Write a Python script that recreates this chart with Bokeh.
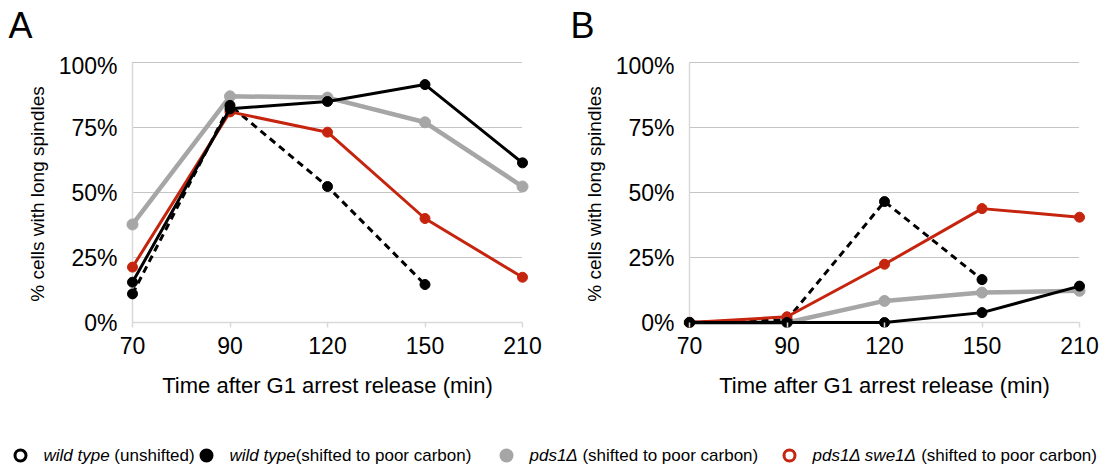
from bokeh.plotting import figure
from bokeh.models import Range1d, FixedTicker, NumeralTickFormatter
from bokeh.layouts import column, row
from bokeh.embed import file_html
from bokeh.resources import INLINE
from bokeh.core.properties import value

# ---------------- data ----------------
times = [70, 90, 120, 150, 210]
y_ticks = [0.0, 0.25, 0.5, 0.75, 1.0]

# Panel A
A_wt_unshifted = [0.11, 0.835, 0.523, 0.146]
A_wt_shifted = [0.155, 0.822, 0.85, 0.915, 0.614]
A_pds1 = [0.377, 0.87, 0.865, 0.77, 0.523]
A_pds1_swe1 = [0.213, 0.81, 0.732, 0.40, 0.174]

# Panel B
B_wt_unshifted = [0.0, 0.01, 0.465, 0.165]
B_wt_shifted = [0.0, 0.0, 0.0, 0.038, 0.14]
B_pds1 = [0.0, 0.0, 0.083, 0.115, 0.122]
B_pds1_swe1 = [0.0, 0.022, 0.224, 0.438, 0.405]

panel_letters = ["A", "B"]

legend_italic = ["wild type", "wild type", "pds1\u0394", "pds1\u0394 swe1\u0394"]
legend_regular = ["(unshifted)", "(shifted to poor carbon)", "(shifted to poor carbon)", "(shifted to poor carbon)"]
legend_gap = [True, False, True, True]

BLACK = "#000000"
GRAY = "#a6a6a6"
RED = "#c5250e"
AXIS = "#d9d9d9"
GRID = "#8a8a8a"
FONT = "Liberation Sans"

# ---------------- geometry ----------------
TOTAL_W, TOTAL_H = 1104, 466
HEAD_H = 52
FIG_W, FIG_H = 552, 358
TOP = 60 - HEAD_H
X_PX = 97.5      # px per category step
Y_PX = 260.0     # px per 100 %
PAD_X = 7.0
PAD_B = 5.0
PAD_T = 2.0
frame_w = int(round(4 * X_PX + 2 * PAD_X))
frame_h = int(round(Y_PX + PAD_B + PAD_T))


def blank(width, height, x0, y0):
    f = figure(width=width, height=height, x_range=Range1d(x0, x0 + width),
               y_range=Range1d(y0 + height, y0), output_backend="svg",
               toolbar_location=None, min_border=0)
    f.axis.visible = False
    f.xgrid.visible = False
    f.ygrid.visible = False
    f.outline_line_color = None
    return f


# header with panel letters
head = blank(TOTAL_W, HEAD_H, 0, 0)
head.text([8, 570], [25, 25], text=panel_letters, text_font=value(FONT), text_font_size="36px",
          text_baseline="middle", text_align="left", text_color="black")


def panel(left_border, series):
    n = len(times)
    xr = Range1d(-PAD_X / X_PX, (n - 1) + PAD_X / X_PX)
    yr = Range1d(-PAD_B / Y_PX, 1.0 + PAD_T / Y_PX)
    p = figure(width=FIG_W, height=FIG_H, x_range=xr, y_range=yr,
               output_backend="svg", toolbar_location=None,
               min_border_left=left_border, min_border_right=FIG_W - left_border - frame_w,
               min_border_top=TOP, min_border_bottom=FIG_H - TOP - frame_h)
    p.outline_line_color = None
    p.xgrid.visible = False
    p.ygrid.visible = False
    p.background_fill_color = "white"
    p.border_fill_color = "white"

    xs = list(range(n))
    gl = [t for t in y_ticks if t > 0]
    p.segment(x0=[xs[0]] * len(gl), x1=[xs[-1]] * len(gl), y0=gl, y1=gl,
              line_color=GRID, line_width=1, line_dash="1 1")
    p.segment(x0=[xs[0], xs[0]], x1=[xs[-1], xs[0]], y0=[0, 0], y1=[0, y_ticks[-1]],
              line_color=AXIS, line_width=1.5)

    for vals, color, lw, dash, size in series:
        xx = xs[:len(vals)]
        p.line(xx, vals, line_color=color, line_width=lw, line_dash=dash)
        p.scatter(xx, vals, size=size, fill_color=color, line_color=color)

    xa = p.xaxis[0]
    xa.ticker = FixedTicker(ticks=xs)
    xa.major_label_overrides = {i: str(t) for i, t in enumerate(times)}
    xa.axis_line_color = None
    xa.major_tick_in = int(PAD_B)
    xa.major_tick_out = 0
    xa.major_tick_line_color = AXIS
    xa.major_tick_line_width = 1.5
    xa.minor_tick_line_color = None
    xa.major_label_text_font = FONT
    xa.major_label_text_font_size = "23px"
    xa.major_label_text_color = "black"
    xa.major_label_standoff = 9
    xa.axis_label = "Time after G1 arrest release (min)"
    xa.axis_label_text_font = FONT
    xa.axis_label_text_font_style = "normal"
    xa.axis_label_text_font_size = "22px"
    xa.axis_label_text_color = "black"
    xa.axis_label_standoff = 16

    ya = p.yaxis[0]
    ya.ticker = FixedTicker(ticks=y_ticks)
    ya.formatter = NumeralTickFormatter(format="0%")
    ya.axis_line_color = None
    ya.major_tick_line_color = None
    ya.minor_tick_line_color = None
    ya.major_tick_in = 0
    ya.major_tick_out = 0
    ya.major_label_text_font = FONT
    ya.major_label_text_font_size = "23px"
    ya.major_label_text_color = "black"
    ya.major_label_standoff = 8
    ya.axis_label = "% cells with long spindles"
    ya.axis_label_text_font = FONT
    ya.axis_label_text_font_style = "normal"
    ya.axis_label_text_font_size = "19px"
    ya.axis_label_text_color = "black"
    ya.axis_label_standoff = 8
    return p


pA = panel(125, [
    (A_pds1, GRAY, 4.5, "solid", 11),
    (A_wt_unshifted, BLACK, 3, "7 5", 10),
    (A_pds1_swe1, RED, 3, "solid", 10),
    (A_wt_shifted, BLACK, 3, "solid", 10),
])
pB = panel(130, [
    (B_pds1, GRAY, 4.5, "solid", 11),
    (B_wt_unshifted, BLACK, 3, "7 5", 10),
    (B_pds1_swe1, RED, 3, "solid", 10),
    (B_wt_shifted, BLACK, 3, "solid", 10),
])

# ---------------- legend ----------------
W = {" ": 278, "(": 333, ")": 333, "a": 556, "b": 556, "c": 500, "d": 556, "e": 556, "f": 278,
     "h": 556, "i": 222, "n": 556, "o": 556, "p": 556, "r": 333, "s": 500, "t": 278, "u": 556,
     "w": 722, "y": 500, "l": 222, "1": 556, "\u0394": 668}
LFS = 17


def tw(s):
    return sum(W.get(ch, 556) for ch in s) / 1000.0 * LFS


LEG_H = TOTAL_H - HEAD_H - FIG_H
leg = blank(TOTAL_W, LEG_H, 0, HEAD_H + FIG_H)

marker_x = [20, 206, 506, 789]
ly = 455
m_fill = ["white", BLACK, GRAY, "white"]
m_line = [BLACK, BLACK, GRAY, RED]
leg.scatter(marker_x, [ly] * 4, size=11, fill_color=m_fill, line_color=m_line, line_width=3)
it_x, rg_x = [], []
for mx, it, gap in zip(marker_x, legend_italic, legend_gap):
    sx = mx + 23
    it_x.append(sx)
    rg_x.append(sx + tw(it) + (tw(" ") if gap else 0))
leg.text(it_x, [ly] * 4, text=legend_italic, text_font=value(FONT), text_font_style="italic",
         text_font_size="17px", text_baseline="middle", text_align="left", text_color="black")
leg.text(rg_x, [ly] * 4, text=legend_regular, text_font=value(FONT), text_font_style="normal",
         text_font_size="17px", text_baseline="middle", text_align="left", text_color="black")

layout = column(head, row(pA, pB), leg)
open("out.html", "w").write(file_html(layout, INLINE))
